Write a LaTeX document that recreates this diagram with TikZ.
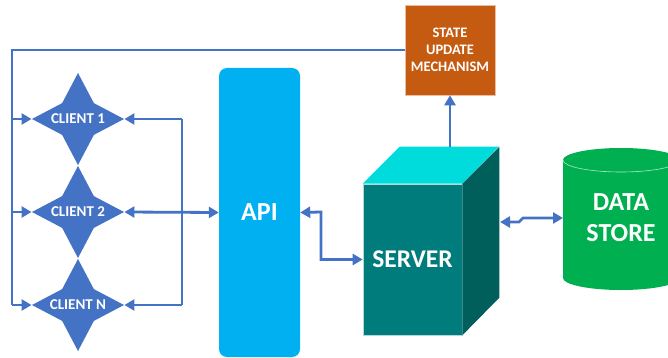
\documentclass[tikz,border=0pt]{standalone}
\usepackage{fontspec}
\setmainfont{Carlito}
\usetikzlibrary{shapes.geometric,arrows.meta}
\definecolor{linkblue}{HTML}{4472C4}
\definecolor{apiblue}{HTML}{00B0F0}
\definecolor{srvfront}{HTML}{007C7C}
\definecolor{srvtop}{HTML}{00DCDC}
\definecolor{srvside}{HTML}{005F5A}
\definecolor{stateor}{HTML}{C55A11}
\definecolor{storegreen}{HTML}{00B050}
\tikzset{
  link/.style={draw=linkblue, line width=2.8pt},
  onearrow/.style={link, -{Triangle[length=10pt,width=11pt]}},
  twoarrow/.style={link, {Triangle[length=10pt,width=11pt]}-{Triangle[length=10pt,width=11pt]}},
  clientstar/.style={star, star points=4, star point ratio=2.05, minimum size=92pt,
    inner sep=0pt, fill=linkblue},
  whitetext/.style={text=white, font=\bfseries, align=center, inner sep=0pt},
}
\begin{document}
\begin{tikzpicture}[x=1pt, y=-1pt]
\clip (0,0) rectangle (668,358);
\useasboundingbox (0,0) rectangle (668,358);
\fill[white] (0,0) rectangle (668,358);

% clients
\node[clientstar] (c1) at (78,119) {};
\node[clientstar] (c2) at (78,212) {};
\node[clientstar] (cN) at (78,305) {};
\node[whitetext, font=\fontsize{15}{15}\selectfont\bfseries] at (c1) {CLIENT 1};
\node[whitetext, font=\fontsize{15}{15}\selectfont\bfseries] at (c2) {CLIENT 2};
\node[whitetext, font=\fontsize{15}{15}\selectfont\bfseries] at (cN) {CLIENT N};

% API column
\node[fill=apiblue, rounded corners=8pt, minimum width=81pt, minimum height=289pt,
  inner sep=0pt] (api) at (259.5,212.5) {};
\node[whitetext, font=\fontsize{26}{26}\selectfont\bfseries] at (api) {API};

% server cube
\node[fill=srvfront, draw=white!70!srvfront, line width=0.6pt, minimum width=99pt,
  minimum height=151pt, inner sep=0pt] (srv) at (412.5,259.5) {};
\fill[srvtop] (srv.north west) -- ++(37,-37) -- ++(99,0) -- (srv.north east) -- cycle;
\fill[srvside] (srv.north east) -- ++(37,-37) -- ++(0,151) -- (srv.south east) -- cycle;
\node[whitetext, font=\fontsize{25.5}{25.5}\selectfont\bfseries] at (srv) {SERVER};

% state update box
\node[fill=stateor, draw=white!60!stateor, line width=0.6pt, minimum width=90pt,
  minimum height=90pt, inner sep=0pt] (sum) at (450,50) {};
\node[whitetext, font=\fontsize{14.5}{17}\selectfont\bfseries] at (sum)
  {STATE\\UPDATE\\MECHANISM};

% data store cylinder
\fill[storegreen] (563,278) arc[start angle=180, end angle=360, x radius=58pt, y radius=12pt]
  -- (679,160) arc[start angle=0, end angle=180, x radius=58pt, y radius=12pt] -- cycle;
\draw[white!70!storegreen, line width=0.6pt] (563,160)
  arc[start angle=180, end angle=360, x radius=58pt, y radius=12pt];
\node[whitetext, font=\fontsize{26}{31}\selectfont\bfseries] (ds) at (621,218)
  {DATA\\STORE};

% connector points
\coordinate (lx1) at (12,119);
\coordinate (lx2) at (12,212);
\coordinate (lxN) at (12,305);
\coordinate (rx1) at (182,119);
\coordinate (rxN) at (182,305);
\coordinate (bend) at (321,212);
\coordinate (srvtopc) at (450,147);
\coordinate (srvsidec) at (500,222);
\coordinate (jog1) at (519,222);
\coordinate (jog2) at (523,218);
\coordinate (dsL) at (563,218);

% feedback loop from the state update box to every client
\draw[link] (sum.west) -| (lxN);
\draw[onearrow] (lx1) -- (c1.west);
\draw[onearrow] (lx2) -- (c2.west);
\draw[onearrow] (lxN) -- (cN.west);

% clients to API
\draw[link] (rx1) -- (rxN);
\draw[onearrow] (rx1) -- (c1.east);
\draw[onearrow] (rxN) -- (cN.east);
\draw[twoarrow] (c2.east) -- (api.west);

% API to server
\draw[twoarrow] (api.east) -- (bend) |- (srv.west);

% server to state update
\draw[onearrow] (srvtopc) -- (sum.south);

% server to data store
\draw[twoarrow] (srvsidec) -- (jog1) -- (jog2) -- (dsL);
\end{tikzpicture}
\end{document}
